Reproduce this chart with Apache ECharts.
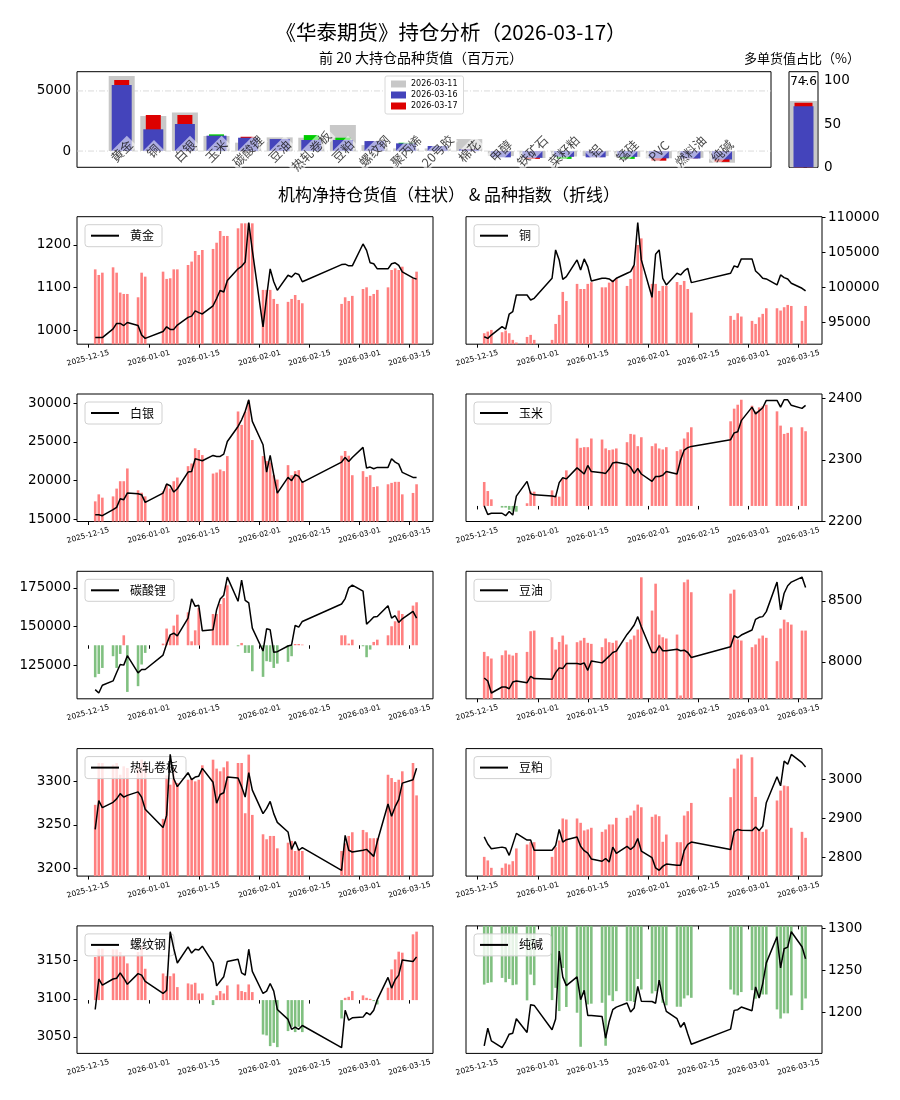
<!DOCTYPE html>
<html><head><meta charset="utf-8">
<script src="https://cdn.jsdelivr.net/npm/echarts@6/dist/echarts.min.js"></script>
<style>html,body{margin:0;padding:0;background:#fff}#c{width:900px;height:1100px}</style>
</head><body><div id="c"></div>
<script>
// ---------------- data ----------------
const dates = ['2025-12-17','2025-12-18','2025-12-19','2025-12-22','2025-12-23','2025-12-24','2025-12-25','2025-12-26','2025-12-29','2025-12-30','2025-12-31',
'2026-01-05','2026-01-06','2026-01-07','2026-01-08','2026-01-09','2026-01-12','2026-01-13','2026-01-14','2026-01-15','2026-01-16','2026-01-19','2026-01-20','2026-01-21','2026-01-22','2026-01-23','2026-01-26','2026-01-27','2026-01-28','2026-01-29','2026-01-30',
'2026-02-02','2026-02-03','2026-02-04','2026-02-05','2026-02-06','2026-02-09','2026-02-10','2026-02-11','2026-02-12','2026-02-13','2026-02-24','2026-02-25','2026-02-26','2026-02-27',
'2026-03-02','2026-03-03','2026-03-04','2026-03-05','2026-03-06','2026-03-09','2026-03-10','2026-03-11','2026-03-12','2026-03-13','2026-03-16','2026-03-17'];
const xTickLabels = ['2025-12-15','2026-01-01','2026-01-15','2026-02-01','2026-02-15','2026-03-01','2026-03-15'];

const topCategories = ['黄金','铜','白银','玉米','碳酸锂','豆油','热轧卷板','豆粕','螺纹钢','聚丙烯','20号胶','棉花','甲醇','铁矿石','菜籽粕','铝','锰硅','PVC','燃料油','纯碱'];
const top0311 = [6250,2920,3200,1250,700,1140,1110,2170,500,220,220,1000,-420,-580,-450,-420,-480,-600,-560,-970];
const top0316 = [5500,1810,2250,1280,1110,1000,920,920,830,640,420,150,-520,-560,-480,-520,-480,-600,-620,-700];
const top0317 = [5920,3000,3000,1390,1190,950,1330,1110,800,690,400,140,-480,-650,-650,-500,-650,-800,-600,-900];
const top0317Up = [1,1,1,0,1,1,0,0,1,0,1,1,1,1,0,1,0,1,1,1];
const topYTicks = [0,5000];
const shareValues = [76.5,70.5,74.6]; // 03-11, 03-16, 03-17
const shareTicks = [0,50,100];

const goldIdx = [984,984,984,1004,1017,1017,1012,1019,1012,990,982,998,1009,1003,1003,1013,1031,1034,1046,1042,1039,1058,1075,1094,1090,1117,1144,1150,1160,1252,1187,1009,1079,1144,1114,1094,1129,1125,1134,1131,1114,1154,1155,1151,1151,1202,1187,1158,1156,1144,1144,1156,1158,1152,1137,1123,1120];
const goldNet = [58.7,54.3,56.1,60.3,56.1,40.5,39.4,39.4,36.8,56.1,53,56.9,51.2,51.7,58.7,58.7,62.1,64.8,73.1,70,73.9,74.7,79.6,88.8,84.9,84.9,90.9,94.8,94.8,94.8,94.8,42.6,42.6,42.6,35.5,31.6,33.2,35.5,38.6,34.7,32.1,31.6,36.8,33.9,37.9,43.3,44.6,37.9,39.4,42.6,44.6,58.2,59.5,58.2,60.8,51.7,56.9];
const goldTicks = [1000,1100,1200];

const copperIdx = [92952,92714,93190,94381,94048,96190,96524,98905,98905,98190,98429,101286,105333,103905,101143,101524,103905,102476,104048,102952,100905,101286,101286,101190,100810,101286,102000,102238,103190,109238,103905,98571,104714,105333,101286,100333,102000,101762,102333,102714,100667,102000,103048,102857,104048,104048,102333,101857,101286,101190,100333,101762,101381,101190,100571,99857,99476];
const copperNet = [8.6,9.9,11.2,9.4,10.7,8.6,3.4,1.3,5.7,7.3,3.4,3.4,15.9,23,41,33.9,47.3,43.3,43.3,47.3,48.6,44.6,44.6,48.3,50.4,51.7,45.7,51.2,61.4,77.8,83,47.3,47.3,41.8,45.7,45.7,48.8,46.5,49.6,43.3,24.8,22.2,19.1,24.3,21.7,18.3,15.9,21.1,23.8,28.2,28.2,26.4,29,30.8,30,18.3,30];
const copperTicks = [95000,100000,105000,110000];

const silverIdx = [15560,15560,15430,16210,16510,17630,17500,18360,18280,18150,17160,18360,19530,19310,18490,18920,21080,21160,22800,22670,22540,23230,23100,23100,23400,25040,26980,27840,28920,30430,27630,24610,21080,23230,20730,18360,20390,19960,20730,20520,19740,22370,22970,22460,22970,24270,21600,21720,21510,21680,21680,22800,22370,22110,21030,20390,20390];
const silverNet = [15.8,21.3,18.7,19.7,25.8,31.6,31.6,41.6,24.5,22.6,19.7,23.7,28.9,25.8,31.6,34.5,43.4,45.5,57.4,56.1,52.1,37.6,38.4,40.8,39.5,51.3,86.3,75.8,86.3,94.7,63.9,51.3,47.4,46.3,36.3,32.9,44.2,36.3,39.5,40.3,31.6,51.6,55.3,51.6,36.3,39.5,35,36.3,27.1,27.6,29.2,30.3,31.1,31.1,21.3,22.4,29.2];
const silverTicks = [15000,20000,25000,30000];

const cornIdx = [2225,2211,2213,2213,2209,2216,2210,2241,2265,2245,2243,2241,2240,2263,2271,2269,2287,2282,2277,2291,2281,2279,2278,2285,2295,2296,2293,2288,2278,2286,2277,2265,2273,2273,2275,2281,2277,2300,2316,2320,2322,2333,2344,2346,2364,2386,2375,2380,2385,2397,2397,2386,2398,2398,2389,2384,2389];
const cornNet = [18.8,11.7,5.2,-1.3,-1.3,-3,-4.5,-4.5,2.1,11.2,11.2,12.2,7.3,7.3,21.4,27.9,52.9,45.6,46.1,46.1,52.9,52.1,45.1,43.8,44.3,45.1,50,56.5,56,46.9,53.9,46.9,49,45.1,44.3,46.1,43,44.3,52.9,57.8,61.7,66.4,76.3,79.4,83.3,78.6,74.2,77.3,78.1,79.4,74.2,63,56.5,57.3,61.7,61.7,58.6];
const cornTicks = [2200,2300,2400];

const lithiumIdx = [109130,106960,111960,114780,120220,125430,125000,131090,120000,122170,122170,131520,138700,144570,145650,143910,155430,167830,163040,163700,147170,147830,160870,167830,170220,181960,166300,180000,166960,165220,148910,134130,148480,147830,133260,133700,137390,138040,150650,149570,153260,164570,168040,175000,176740,172830,151520,153700,156090,156520,163480,155430,156960,152610,155000,159780,155430];
const lithiumNet = [-25.1,-22.5,-17.8,-8.6,-17.8,-6.8,7.8,-36.6,-32.1,-15.1,-6,1.3,13.1,7.8,15.4,24,25.8,3.1,11.7,29.2,null,24.5,24.5,32.4,37.1,47,-0.8,1.8,-6,-6,-20.4,-24.8,-12.5,-13,-17.8,-14.4,-13,-8.6,1,1,0.5,7.8,7.8,1.3,4.4,-0.8,-9.4,-3.4,2.6,4.4,7.8,14.9,18.8,27.2,24.5,31.1,33.7];
const lithiumTicks = [125000,150000,175000];

const soyoilIdx = [7868,7843,7745,7794,7794,7780,7835,7843,7830,7882,7863,7857,7912,7951,7945,7986,7986,7981,7992,7931,8008,7992,8019,8047,8077,8088,8225,8261,8302,8371,8288,8077,8077,8132,8091,8091,8104,8091,8096,8077,8036,8124,8214,8198,8220,8261,8349,8365,8371,8412,8654,8426,8563,8624,8654,8695,8610];
const soyoilNet = [36.8,33.4,31.6,34.2,37.9,34.7,33.9,36,36.8,53,53.5,48.3,38.6,44.6,49.6,42.6,44.4,45.7,47.8,43.9,43.1,40.5,47.3,44.4,43.9,45.7,44.4,46.5,49.6,54.3,95.3,69.2,90.3,50.4,48.3,47.3,50.4,2.6,91.4,93.5,83.6,82.5,85.6,46.5,45.7,40.5,42.6,47.3,49.6,47.8,29.5,55.1,62.1,60.1,58.2,53.5,53.5];
const soyoilTicks = [8000,8500];

const hrcIdx = [3245,3278,3270,3276,3280,3286,3282,3284,3288,3282,3268,3247,3261,3331,3303,3294,3310,3302,3305,3306,3315,3299,3275,3285,3287,3305,3304,3294,3282,3310,3290,3263,3269,3277,3263,3253,3242,3222,3231,3221,3224,3198,3238,3221,3219,3221,3222,3218,3214,3231,3274,3260,3271,3279,3298,3302,3315];
const hrcNet = [55.9,88.7,88.7,87.4,88.7,79.5,86.1,84.8,84.8,91.3,88.7,44.9,79,71.7,84.8,73,75.6,76.9,74.3,75.6,86.9,91.3,84.3,82.2,85.3,90,88.7,88.7,49.3,95.3,48,32.8,28.9,31.5,31.5,21.8,26.2,27.6,19.7,21.3,19.7,19.7,25.7,31.5,34.4,36.2,34.4,29.7,29.7,29.7,79.5,76.9,73.8,75.6,82.2,88.7,63.3];
const hrcTicks = [3200,3250,3300];

const mealIdx = [2853,2835,2823,2827,2825,2806,2834,2862,2845,2845,2819,2819,2831,2872,2840,2846,2853,2829,2818,2812,2797,2791,2798,2789,2827,2811,2829,2821,2829,2849,2817,2800,2774,2768,2778,2784,2781,2781,2818,2834,2840,2821,2866,2872,2870,2869,2878,2869,2880,2940,3006,2983,3046,3038,3063,3042,3031];
const mealNet = [15.1,12.3,6.5,6.5,9.9,9.1,11.7,21.7,24.8,26.6,26.6,15.1,22.7,27.9,45.2,44.4,45.2,41.8,35.8,36.6,37.9,34.7,36.6,40.5,40.5,45.7,45.7,47.5,51.4,56.1,54,46.5,48.3,47,26.9,32.6,26.6,26.6,47.5,50.9,57.4,61.9,84.3,92.2,95.3,93.2,62.1,36.6,34.7,36.6,59.3,67.1,71,70.5,37.9,34.7,30];
const mealTicks = [2800,2900,3000];

const rebarIdx = [3086,3126,3118,3126,3127,3134,3127,3119,3133,3131,3123,3107,3111,3188,3166,3147,3168,3160,3165,3164,3169,3147,3117,3123,3129,3149,3152,3134,3131,3165,3136,3107,3110,3120,3110,3086,3073,3060,3063,3060,3065,3036,3085,3072,3075,3076,3082,3079,3085,3099,3128,3114,3125,3131,3151,3149,3155];
const rebarNet = [33.8,40.3,40.3,39.8,39.8,37.7,34.6,28.8,37.7,42.4,24.6,20.9,18.8,18.8,20.9,10.2,13.1,12.3,13.6,5.2,5.2,-3.9,3.7,7.1,5.2,11.5,12.3,7.1,6.3,12.3,6.3,-27,-27.7,-36.1,-33.5,-36.9,-24.3,-20.9,-25.1,-20.9,-25.1,-14.4,1.8,2.6,7.1,3.7,1.8,1,-0.8,-3.4,9.7,24.1,31.9,38,37.2,51.6,53.7];
const rebarTicks = [3050,3100,3150];

const sodaIdx = [1160.7,1181.7,1166.7,1158.7,1165.9,1174.6,1175.8,1192.9,1176.6,1209.5,1208.7,1179.8,1192.5,1273,1242.5,1232.1,1242.5,1215.5,1226.6,1196.8,1196.8,1195.6,1169.8,1189.7,1203.6,1206.7,1211.5,1200.8,1205.6,1231.3,1213.7,1213.3,1211.3,1238.5,1216.7,1201.6,1192.9,1182.9,1188.5,1175,1162.7,1180.6,1202.8,1203.6,1206.7,1202.4,1230.6,1217.5,1234.5,1259.1,1290.1,1253.2,1275.8,1277.8,1296,1278.2,1263.9];
const sodaNet = [-46,-44.7,-44.2,-40.8,-44.2,-41.6,-46.5,-46,-58.4,-38.2,-46.5,-58.2,-48.6,-66.8,-33,-63.6,-68.1,-94.8,-53.8,-61.6,-61,-60.3,-94,-54.5,-59,-51.2,-59,-59,-59.7,-41.6,-49.9,-53,-51.2,-44.7,-60.3,-62.3,-63.4,-63.4,-56.9,-54.5,-56.4,-49.9,-53.8,-54.5,-51.9,-50.4,-57.1,-55.6,-53.8,-53.8,-65.5,-72.7,-68.6,-68.6,-54.5,-66,-56.9];
const sodaTicks = [1200,1250,1300];

const panels = [
  {name:'黄金', idx:goldIdx, net:goldNet, ticks:goldTicks},
  {name:'铜', idx:copperIdx, net:copperNet, ticks:copperTicks},
  {name:'白银', idx:silverIdx, net:silverNet, ticks:silverTicks},
  {name:'玉米', idx:cornIdx, net:cornNet, ticks:cornTicks},
  {name:'碳酸锂', idx:lithiumIdx, net:lithiumNet, ticks:lithiumTicks},
  {name:'豆油', idx:soyoilIdx, net:soyoilNet, ticks:soyoilTicks},
  {name:'热轧卷板', idx:hrcIdx, net:hrcNet, ticks:hrcTicks},
  {name:'豆粕', idx:mealIdx, net:mealNet, ticks:mealTicks},
  {name:'螺纹钢', idx:rebarIdx, net:rebarNet, ticks:rebarTicks},
  {name:'纯碱', idx:sodaIdx, net:sodaNet, ticks:sodaTicks}
];

// ---------------- layout / style ----------------
const barRanges = [[0,100],[0,100],[0,100],[-12.2,87.8],[-42,58],[0,100],[0,100],[0,100],[-41.8,58.2],[-100,0]];
const CJK = "'Noto Sans CJK SC', sans-serif";
const NUM = "'DejaVu Sans', sans-serif";
const DAY = 86400000;
const toTs = s => Date.parse(s + 'T00:00:00Z');
const ts = dates.map(toTs);
const xTickTs = xTickLabels.map(toTs);
const xMin = xTickTs[0] - 3.1 * DAY, xMax = xTickTs[0] + 96.6 * DAY;
const colLeft = [77, 466], plotW = 356, plotH = 127.5, rowTop0 = 216.7, rowStep = 177.3;
const RED = '#ff8080', GREEN = '#80c080';
const plain = v => String(v);

const option = {animation:false, grid:[], xAxis:[], yAxis:[], series:[], legend:[], graphic:[]};

// titles
option.graphic.push(
  {type:'text', x:451, y:32, z:20, style:{text:'《华泰期货》持仓分析（2026-03-17）', font:"20.5px " + CJK, fill:'#000', textAlign:'center', textVerticalAlign:'middle'}},
  {type:'text', x:421, y:58, z:20, style:{text:'前 20 大持仓品种货值（百万元）', font:"14px " + CJK, fill:'#000', textAlign:'center', textVerticalAlign:'middle'}},
  {type:'text', x:802, y:58, z:20, style:{text:'多单货值占比（%）', font:"13px " + CJK, fill:'#000', textAlign:'center', textVerticalAlign:'middle'}},
  {type:'text', x:449, y:195, z:20, style:{text:'机构净持仓货值（柱状） & 品种指数（折线）', font:"17px " + CJK, fill:'#000', textAlign:'center', textVerticalAlign:'middle'}}
);

// ---- top bar chart (grid 0) ----
const topXMin = -1.415, topXMax = topCategories.length - 1 + 1.55;
option.grid.push({left:77, top:71.7, width:694, height:95.6, show:true, borderColor:'#000', borderWidth:1, backgroundColor:'rgba(0,0,0,0)', containLabel:false, outerBoundsMode:'none'});
for (let k = 0; k < 3; k++) option.xAxis.push({gridIndex:0, type:'value', min:topXMin, max:topXMax, show:false});
option.yAxis.push({gridIndex:0, type:'value', min:-1350, max:6600, axisLine:{show:false}, splitLine:{show:false},
  axisTick:{show:true, length:3.5, lineStyle:{color:'#000'}, customValues:topYTicks},
  axisLabel:{customValues:topYTicks, formatter:plain, fontSize:13.5, fontFamily:NUM, color:'#000', margin:6}});
topYTicks.forEach(v => option.series.push({type:'line', xAxisIndex:0, yAxisIndex:0, data:[[topXMin, v],[topXMax, v]], symbol:'none', silent:true, z:1,
  lineStyle:{color:'#d0d0d0', width:0.8, type:[6,2,1,2]}}));
option.series.push({type:'bar', name:'2026-03-11', xAxisIndex:0, yAxisIndex:0, data:top0311.map((v,i)=>[i,v]), barWidth:26, itemStyle:{color:'#c8c8c8'}, z:2, silent:true});
option.series.push({type:'bar', name:'2026-03-17', xAxisIndex:1, yAxisIndex:0, data:top0317.map((v,i)=>[i,v]), barWidth:15, itemStyle:{color:p => top0317Up[p.dataIndex] ? '#dd0000' : '#00cc00'}, z:3, silent:true});
option.series.push({type:'bar', name:'2026-03-16', xAxisIndex:2, yAxisIndex:0, data:top0316.map((v,i)=>[i,v]), barWidth:20, itemStyle:{color:'#4444bb'}, z:4, silent:true});
option.series.push({type:'scatter', xAxisIndex:0, yAxisIndex:0, data:topCategories.map((c,i)=>[i,0]), symbolSize:1, itemStyle:{color:'rgba(0,0,0,0)'}, z:10, silent:true,
  label:{show:true, position:'inside', rotate:45, formatter:p => topCategories[p.dataIndex], fontSize:12.5, fontFamily:CJK, color:'#111', backgroundColor:'rgba(255,255,255,0.7)', padding:[1,2]}});
option.legend.push({data:[{name:'2026-03-11', itemStyle:{color:'#c8c8c8'}},{name:'2026-03-16', itemStyle:{color:'#4444bb'}},{name:'2026-03-17', itemStyle:{color:'#dd0000'}}],
  orient:'vertical', left:385, top:76, icon:'rect', itemWidth:15, itemHeight:7, itemGap:3, padding:[4,6], selectedMode:false,
  backgroundColor:'#fff', borderColor:'#d8d8d8', borderWidth:1, borderRadius:2, textStyle:{fontSize:8, fontFamily:NUM, color:'#000'}});

// ---- share chart (grid 1) ----
option.grid.push({left:789, top:71.7, width:29, height:95.6, show:true, borderColor:'#000', borderWidth:1, backgroundColor:'rgba(0,0,0,0)', containLabel:false, outerBoundsMode:'none'});
for (let k = 0; k < 3; k++) option.xAxis.push({gridIndex:1, type:'value', min:-0.5, max:0.5, show:false});
option.yAxis.push({gridIndex:1, type:'value', position:'right', min:0, max:110.4, axisLine:{show:false}, splitLine:{show:false},
  axisTick:{show:true, length:3.5, lineStyle:{color:'#000'}, customValues:shareTicks},
  axisLabel:{customValues:shareTicks, formatter:plain, fontSize:13.5, fontFamily:NUM, color:'#000', margin:6}});
option.series.push({type:'bar', xAxisIndex:3, yAxisIndex:1, data:[[0, shareValues[0]]], barWidth:27, itemStyle:{color:'#c8c8c8'}, z:2, silent:true});
option.series.push({type:'bar', xAxisIndex:4, yAxisIndex:1, data:[[0, shareValues[2]]], barWidth:18, itemStyle:{color:'#dd0000'}, z:3, silent:true,
  label:{show:true, position:'top', distance:15, formatter:p => p.value[1].toFixed(1), fontSize:12, fontFamily:NUM, color:'#000'}});
option.series.push({type:'bar', xAxisIndex:5, yAxisIndex:1, data:[[0, shareValues[1]]], barWidth:20, itemStyle:{color:'#4444bb'}, z:4, silent:true});

// ---- panels ----
function padRange(arr) {
  const mn = Math.min(...arr), mx = Math.max(...arr), r = mx - mn;
  return [mn - 0.05 * r, mx + 0.05 * r];
}
panels.forEach((p, i) => {
  const col = i % 2, row = Math.floor(i / 2);
  const g = 2 + i;
  const left = colLeft[col], top = rowTop0 + row * rowStep;
  option.grid.push({left, top, width:plotW, height:plotH, show:true, borderColor:'#000', borderWidth:1, backgroundColor:'rgba(0,0,0,0)', containLabel:false, outerBoundsMode:'none'});
  const xi = option.xAxis.length;
  option.xAxis.push({gridIndex:g, type:'value', min:xMin, max:xMax, axisLine:{show:false}, splitLine:{show:false},
    axisTick:{show:true, length:3.5, lineStyle:{color:'#000'}, customValues:xTickTs},
    axisLabel:{customValues:xTickTs, formatter:v => new Date(v).toISOString().slice(0,10), rotate:15, fontSize:7.5, fontFamily:NUM, color:'#000', margin:14, align:'center', verticalAlign:'middle', hideOverlap:false}});
  const [lo, hi] = padRange(p.idx);
  const yl = option.yAxis.length;
  option.yAxis.push({gridIndex:g, type:'value', position: col ? 'right' : 'left', min:lo, max:hi, axisLine:{show:false}, splitLine:{show:false},
    axisTick:{show:true, length:3.5, lineStyle:{color:'#000'}, customValues:p.ticks},
    axisLabel:{customValues:p.ticks, formatter:plain, fontSize:13.5, fontFamily:NUM, color:'#000', margin:6}});
  const yb = option.yAxis.length;
  option.yAxis.push({gridIndex:g, type:'value', min:barRanges[i][0], max:barRanges[i][1], show:false});
  const barData = [];
  p.net.forEach((v, k) => { if (v !== null) barData.push([ts[k], v]); });
  option.series.push({type:'bar', xAxisIndex:xi, yAxisIndex:yb, data:barData, barWidth:2.6, z:2, silent:true,
    itemStyle:{color: q => q.value[1] >= 0 ? RED : GREEN}});
  option.series.push({type:'line', name:p.name, xAxisIndex:xi, yAxisIndex:yl, data:p.idx.map((v,k)=>[ts[k], v]), symbol:'none', z:5, silent:true,
    lineStyle:{color:'#000', width:1.5}, itemStyle:{color:'#000'}});
  option.legend.push({data:[p.name], left:left + 8, top:top + 8, icon:'rect', itemWidth:28, itemHeight:2, padding:[5,8,5,6], selectedMode:false, z:3,
    backgroundColor:'rgba(255,255,255,0.8)', borderColor:'#d0d0d0', borderWidth:1, borderRadius:3,
    itemStyle:{color:'#000'}, textStyle:{fontSize:12, fontFamily:CJK, color:'#000', padding:[0,0,0,6]}});
});

const chart = echarts.init(document.getElementById('c'), null, {renderer:'canvas'});
chart.setOption(option);
</script></body></html>
